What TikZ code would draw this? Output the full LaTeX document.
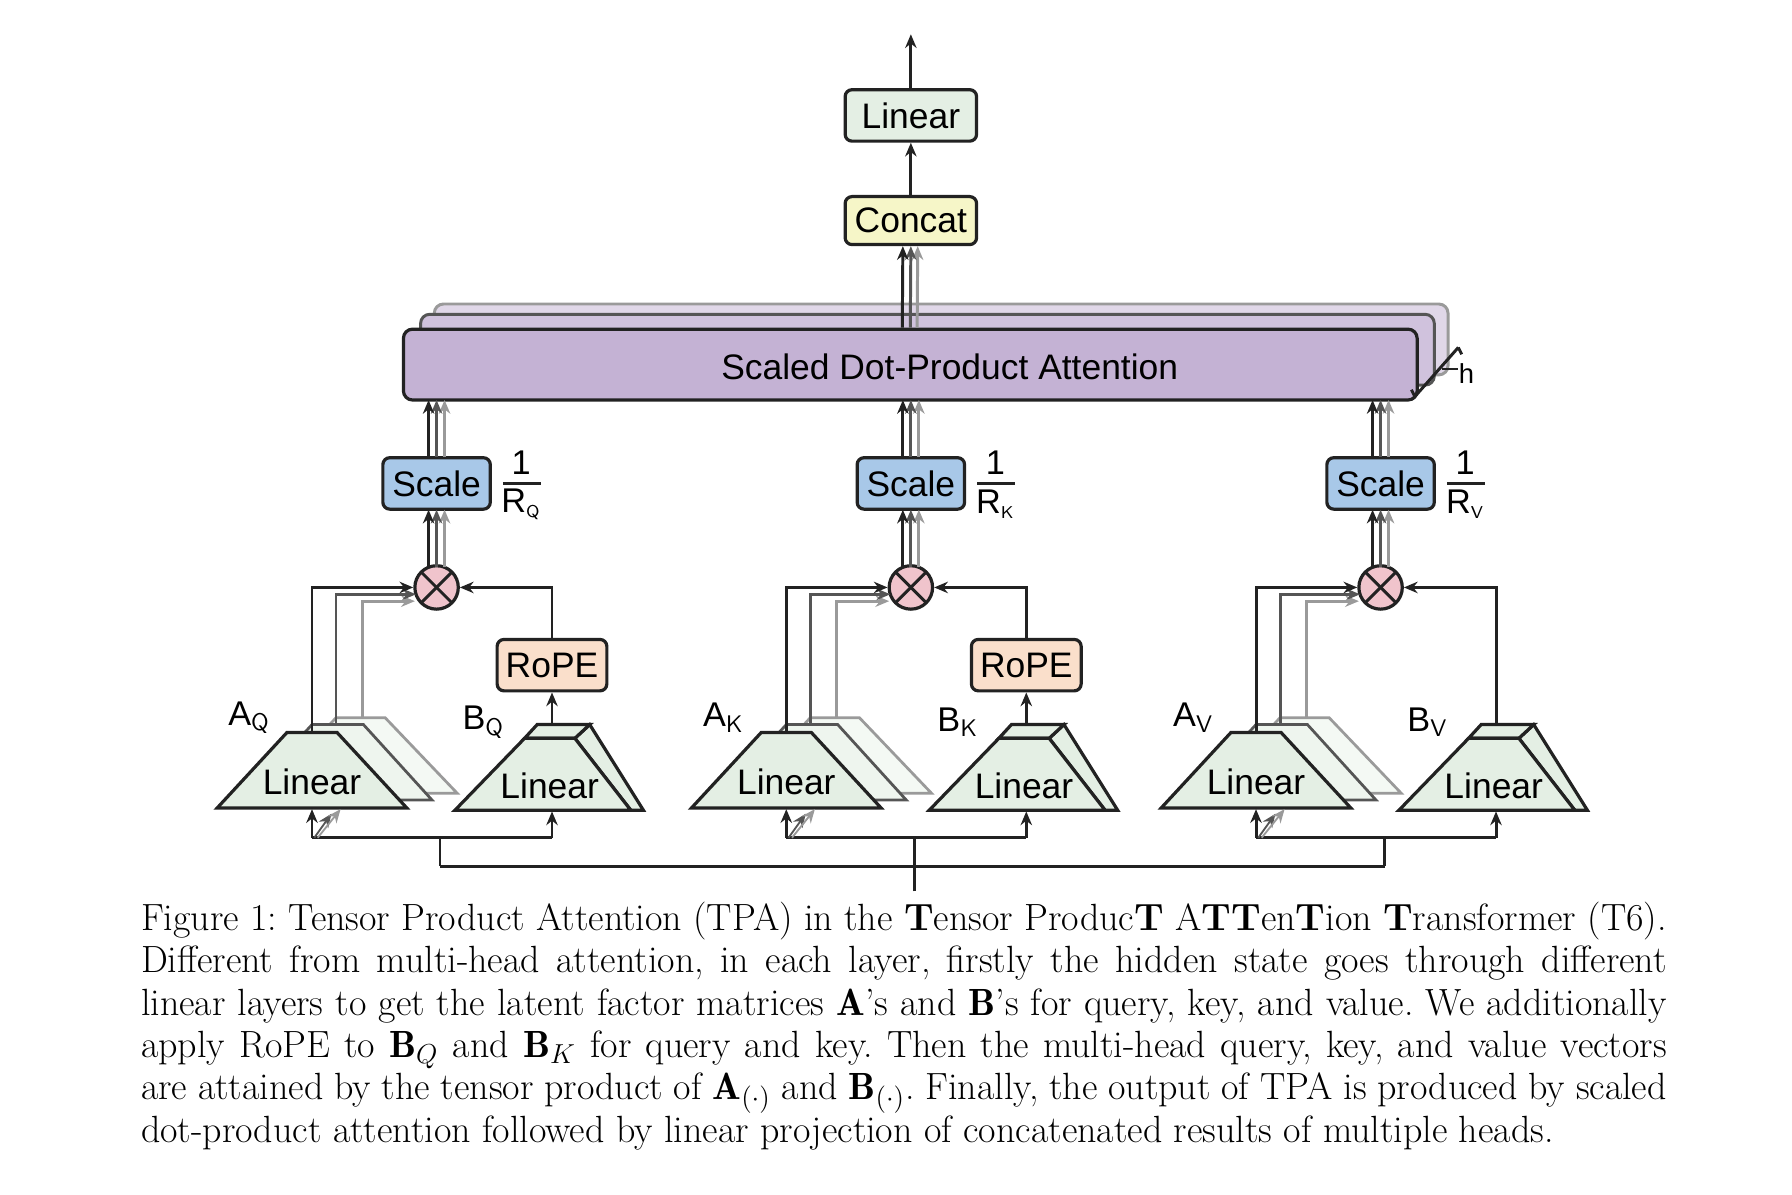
\documentclass[tikz,border=0pt]{standalone}
\usepackage{fontspec}
\newfontfamily\dsans{Liberation Sans}
\usetikzlibrary{arrows.meta}
\definecolor{cK}{HTML}{222222}
\definecolor{cG}{HTML}{555555}
\definecolor{cL}{HTML}{9A9A9A}
\definecolor{lgreen}{HTML}{E4EFE4}
\definecolor{lgreenb}{HTML}{EEF5EE}
\definecolor{lgreenc}{HTML}{F4F9F4}
\definecolor{cyel}{HTML}{F6F6C8}
\definecolor{cpur}{HTML}{C4B2D4}
\definecolor{cpurb}{HTML}{D0C2DD}
\definecolor{cpurc}{HTML}{E0D7E8}
\definecolor{cblue}{HTML}{A8C8E8}
\definecolor{cpink}{HTML}{F0C4CC}
\definecolor{cpeach}{HTML}{FADFCB}
\begin{document}
\begin{tikzpicture}[x=0.5pt,y=-0.5pt,
  box/.style={draw=cK,line width=1.4pt,rounded corners=3pt,inner sep=0pt,font=\dsans\fontsize{15.5}{17}\selectfont},
  trap/.style={draw=cK,line width=1.4pt,fill=lgreen,line join=miter},
  ar/.style={line width=1.3pt,-{Stealth[length=6pt,width=5pt]}},
  lab/.style={font=\dsans\fontsize{15}{17}\selectfont,inner sep=0pt},
]
\useasboundingbox (0,0) rectangle (1568,1045);
% top
\node[box,fill=lgreen,minimum width=57.5pt,minimum height=22.5pt] (lin) at (797,101) {Linear};
\node[box,fill=cyel,minimum width=57.5pt,minimum height=21pt] (cat) at (797,193) {Concat};
\coordinate (out) at (797,30);
\draw[ar,cK] (lin.north) -- (out);
\draw[ar,cK] (cat.north) -- (lin.south);
% SDPA stack
\draw[draw=cL,line width=1.3pt,fill=cpurc,rounded corners=4pt] (380,266) rectangle (1267,328);
\draw[draw=cG,line width=1.3pt,fill=cpurb,rounded corners=4pt] (368,275) rectangle (1255,337);
\node[box,fill=cpur,minimum width=443.5pt,minimum height=31pt,rounded corners=4pt] (sdpa) at (796.5,319) {};
\node[lab,font=\dsans\fontsize{15.5}{17}\selectfont] (sdpat) at (831,321) {Scaled Dot-Product Attention};
\draw[line width=1.3pt,cK] (1238,347) -- (1276,304);
\draw[line width=1.3pt,cK] (1235,341) -- (1238,347);
\draw[line width=1.3pt,cK] (1276,304) -- (1279,310);
\draw[line width=1pt,cK] (1262,323) -- (1276,323);
\node[lab,font=\dsans\fontsize{12}{14}\selectfont,anchor=west] (hh) at (1276,327) {h};
% SDPA to concat
\foreach \dx/\c in {6/cL,0/cG,-7/cK}{
  \draw[ar,\c] ([xshift=\dx*0.5pt]sdpa.north) -- ([xshift=\dx*0.5pt]cat.south);
}
% bottom wiring
\coordinate (inp) at (800,780);
\coordinate (b1) at (385,758);
\coordinate (b2) at (800,758);
\coordinate (b3) at (1212,758);
\draw[line width=1.3pt,cK] (inp) -- (b2);
\draw[line width=1.3pt,cK] (b1) -- (b3);
% groups
\foreach \sx/\sub/\rope in {0/Q/1,415/K/1,826/V/0}{
\begin{scope}[shift={(\sx,0)}]
  \draw[draw=cL,line width=1.2pt,fill=lgreenc] (233,694) -- (294,628) -- (337,628) -- (400,694) -- cycle;
  \draw[draw=cG,line width=1.2pt,fill=lgreenb] (212,700) -- (273,634) -- (318,634) -- (378,700) -- cycle;
  \draw[trap] (190,707) -- (251,641) -- (295,641) -- (356,707) -- cycle;
  \node[lab,font=\dsans\fontsize{15.5}{17}\selectfont] (lA\sub) at (273,684) {Linear};
  \draw[trap] (552,709) -- (503,646) -- (516,634) -- (563,709) -- cycle;
  \draw[trap] (459,646) -- (470,634) -- (516,634) -- (503,646) -- cycle;
  \draw[trap] (398,709) -- (459,646) -- (503,646) -- (552,709) -- cycle;
  \node[lab,font=\dsans\fontsize{15.5}{17}\selectfont] (lB\sub) at (481,688) {Linear};
  \node[lab,font=\dsans\fontsize{15}{17}\selectfont] (tA\sub) at (218,628) {A$_{\mathsf{\scriptstyle \sub}}$};
  \node[lab,font=\dsans\fontsize{15}{17}\selectfont] (tB\sub) at (423,632) {B$_{\mathsf{\scriptstyle \sub}}$};
  \node[draw=cK,line width=1.4pt,fill=cpink,circle,minimum size=19pt,inner sep=0pt] (m\sub) at (382,514) {};
  \draw[line width=1.3pt,cK] ([shift={(-6.7pt,-6.7pt)}]m\sub.center) -- ([shift={(6.7pt,6.7pt)}]m\sub.center);
  \draw[line width=1.3pt,cK] ([shift={(-6.7pt,6.7pt)}]m\sub.center) -- ([shift={(6.7pt,-6.7pt)}]m\sub.center);
  \node[box,fill=cblue,minimum width=47pt,minimum height=22.5pt] (s\sub) at (382,423) {Scale};
  \node[lab] (one\sub) at (456,405) {1};
  \draw[line width=1.3pt,cK] (440,423) -- (473,423);
  \node[lab] (r\sub) at (456,441) {R$_{\mathsf{\scriptscriptstyle \sub}}$};
  \draw[ar,cL] (317,628) -- (317,526) -- (363,526);
  \draw[ar,cG] (294,634) -- (294,520) -- (364,520);
  \draw[ar,cK] (273,641) -- (273,514) -- (m\sub.west);
  \foreach \dx/\c in {7/cL,0/cG,-7/cK}{
    \draw[ar,\c] (382+\dx,496) -- (382+\dx,446);
    \draw[ar,\c] (382+\dx,400) -- (382+\dx,350);
  }
  \ifnum\rope=1
    \node[box,fill=cpeach,minimum width=48pt,minimum height=22.5pt] (rope\sub) at (483,582) {RoPE};
    \draw[ar,cK] (483,634) -- (rope\sub.south);
    \draw[ar,cK] (rope\sub.north) -- (483,514) -- (m\sub.east);
  \else
    \draw[ar,cK] (483,634) -- (483,514) -- (m\sub.east);
  \fi
  \draw[line width=1.3pt,cK] (273,733) -- (483,733);
  \draw[line width=1.3pt,cK] (385,733) -- (385,758);
  \draw[ar,cK] (273,733) -- (273,708);
  \draw[ar,cK] (483,733) -- (483,710);
  \draw[ar,cG,line width=0.8pt] (275,733) -- (290,712);
  \draw[ar,cL,line width=0.8pt] (278,733) -- (298,708);
\end{scope}
}
% caption
\node[anchor=north west,inner sep=0pt,text width=667.5pt,align=justify,
  font=\fontsize{16.6}{18.5}\selectfont\frenchspacing] (cap) at (123,789) {%
Figure 1: Tensor Product Attention (TPA) in the \textbf{T}ensor Produc\textbf{T} A\textbf{TT}en\textbf{T}ion \textbf{T}ransformer (T6).\linebreak
Different from multi-head attention, in each layer, firstly the hidden state goes through different\linebreak
linear layers to get the latent factor matrices $\mathbf{A}$'s and $\mathbf{B}$'s for query, key, and value. We additionally\linebreak
apply RoPE to $\mathbf{B}_Q$ and $\mathbf{B}_K$ for query and key. Then the multi-head query, key, and value vectors\linebreak
are attained by the tensor product of $\mathbf{A}_{(\cdot)}$ and $\mathbf{B}_{(\cdot)}$. Finally, the output of TPA is produced by scaled\linebreak
dot-product attention followed by linear projection of concatenated results of multiple heads.};
\end{tikzpicture}
\end{document}
